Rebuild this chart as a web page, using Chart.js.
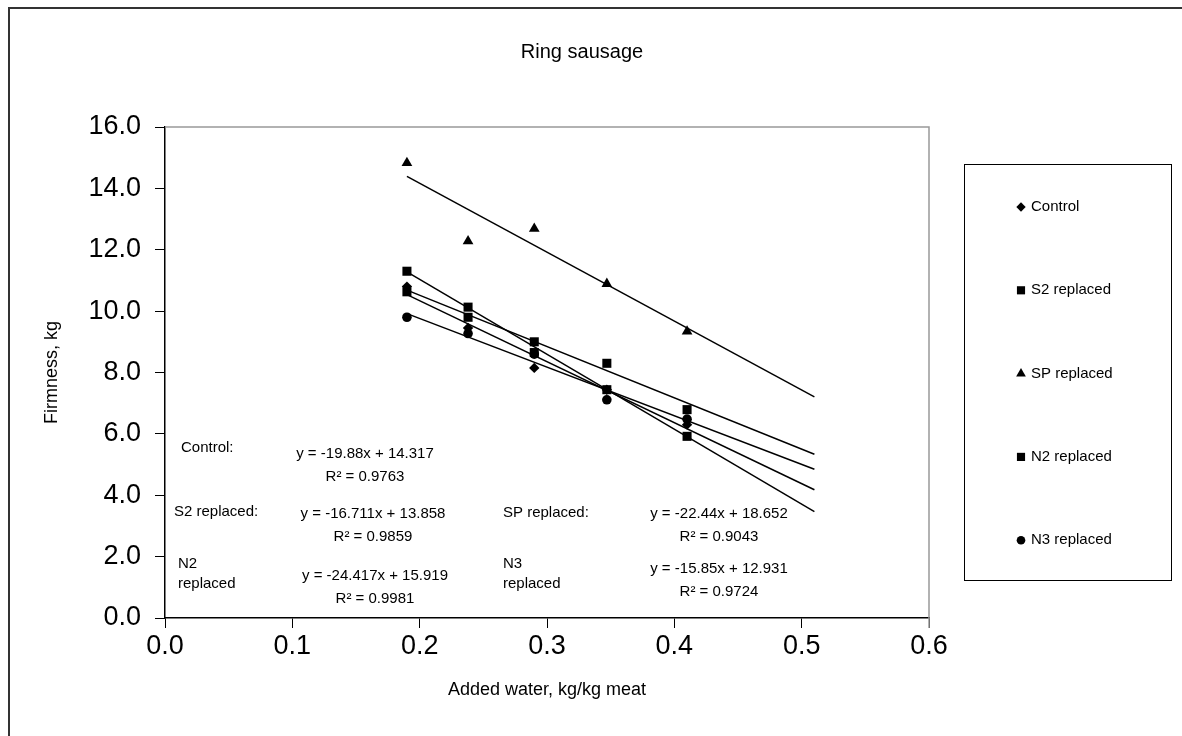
<!DOCTYPE html>
<html>
<head>
<meta charset="utf-8">
<title>Ring sausage</title>
<script src="https://cdn.jsdelivr.net/npm/chart.js@4"></script>
<style>
  html, body { margin: 0; padding: 0; background: #fff; }
  #wrap { width: 1182px; height: 736px; }
</style>
</head>
<body>
<div id="wrap"><canvas id="firmChart" width="1182" height="736"></canvas></div>
<script>
// Ring sausage firmness vs added water, with linear trendlines
const waterAdded = [0.19, 0.238, 0.29, 0.347, 0.41];
const seriesNames = ['Control', 'S2 replaced', 'SP replaced', 'N2 replaced', 'N3 replaced'];
const controlFirmness = [10.8, 9.45, 8.15, 7.44, 6.3];
const s2Firmness = [10.63, 9.8, 9.0, 8.3, 6.79];
const spFirmness = [14.83, 12.28, 12.69, 10.89, 9.34];
const n2Firmness = [11.3, 10.13, 8.65, 7.44, 5.92];
const n3Firmness = [9.8, 9.27, 8.6, 7.11, 6.48];

// trendline coefficients as printed on the chart
const trendSlopes = [-19.88, -16.711, -22.44, -24.417, -15.85];
const trendIntercepts = [14.317, 13.858, 18.652, 15.919, 12.931];
const trendR2 = ['0.9763', '0.9859', '0.9043', '0.9981', '0.9724'];
const trendFrom = 0.19;
const trendTo = 0.51;

const xTickLabels = ['0.0', '0.1', '0.2', '0.3', '0.4', '0.5', '0.6'];
const yTickLabels = ['0.0', '2.0', '4.0', '6.0', '8.0', '10.0', '12.0', '14.0', '16.0'];

const allFirmness = [controlFirmness, s2Firmness, spFirmness, n2Firmness, n3Firmness];
const markerStyles = ['rectRot', 'rect', 'triangle', 'rect', 'circle'];
const markerRadius = [5.2, 6.4, 6.2, 6.4, 4.8];
const FONT = "'Liberation Sans', Arial, sans-serif";

const datasets = [];
allFirmness.forEach((vals, i) => {
  datasets.push({
    label: seriesNames[i],
    data: vals.map((v, j) => ({ x: waterAdded[j], y: v })),
    pointStyle: markerStyles[i],
    pointRadius: markerRadius[i],
    pointBackgroundColor: '#000',
    pointBorderColor: '#000',
    pointBorderWidth: 0,
    showLine: false
  });
});
allFirmness.forEach((vals, i) => {
  const fit = x => trendSlopes[i] * x + trendIntercepts[i];
  datasets.push({
    label: 'Linear (' + seriesNames[i] + ')',
    data: [{ x: trendFrom, y: fit(trendFrom) }, { x: trendTo, y: fit(trendTo) }],
    showLine: true,
    borderColor: '#000',
    borderWidth: 1.5,
    pointRadius: 0
  });
});

// texts next to the trendlines: [name lines, name x, name y, eq center x, eq y]
const eqLayout = [
  [['Control:'], 181, 448, 365, 454],
  [['S2 replaced:'], 174, 512, 373, 514],
  [['SP replaced:'], 503, 513, 719, 514],
  [['N2', 'replaced'], 178, 564, 375, 576],
  [['N3', 'replaced'], 503, 564, 719, 569]
];

const decorations = {
  id: 'decorations',
  afterDraw(chart) {
    const { ctx, chartArea } = chart;
    ctx.save();
    // outer frame
    ctx.strokeStyle = '#333';
    ctx.lineWidth = 2;
    ctx.strokeRect(9, 8, 1190, 740);
    // plot area border on top and right
    ctx.strokeStyle = '#999';
    ctx.lineWidth = 1.5;
    ctx.beginPath();
    ctx.moveTo(chartArea.left, chartArea.top);
    ctx.lineTo(chartArea.right, chartArea.top);
    ctx.lineTo(chartArea.right, chartArea.bottom + 10);
    ctx.stroke();

    ctx.fillStyle = '#000';
    ctx.textBaseline = 'middle';
    ctx.font = '20px ' + FONT;
    ctx.textAlign = 'center';
    ctx.fillText('Ring sausage', 582, 52);

    ctx.font = '15px ' + FONT;
    eqLayout.forEach((row, i) => {
      const [names, nx, ny, ex, ey] = row;
      ctx.textAlign = 'left';
      names.forEach((t, k) => ctx.fillText(t, nx, ny + k * 20));
      ctx.textAlign = 'center';
      const sign = trendIntercepts[i] < 0 ? ' - ' : ' + ';
      ctx.fillText('y = ' + trendSlopes[i] + 'x' + sign + Math.abs(trendIntercepts[i]), ex, ey);
      ctx.fillText('R\u00b2 = ' + trendR2[i], ex, ey + 23);
    });

    // legend box
    ctx.strokeStyle = '#000';
    ctx.lineWidth = 1;
    ctx.strokeRect(964.5, 164.5, 207, 416);
    ctx.textAlign = 'left';
    ctx.font = '15px ' + FONT;
    seriesNames.forEach((name, i) => {
      const y = 207 + i * 83.3;
      const opts = { pointStyle: markerStyles[i], radius: markerRadius[i] * 0.9, borderWidth: 0 };
      ctx.fillStyle = '#000';
      ctx.strokeStyle = '#000';
      Chart.helpers.drawPoint(ctx, opts, 1021, y);
      ctx.fillText(name, 1031, y);
    });
    ctx.restore();
  }
};

const firmChart = new Chart(document.getElementById('firmChart'), {
  type: 'scatter',
  data: { datasets },
  options: {
    responsive: false,
    animation: false,
    layout: { padding: { top: 127, right: 253, left: 0, bottom: 0 } },
    plugins: {
      legend: { display: false },
      title: { display: false },
      tooltip: { enabled: false }
    },
    scales: {
      x: {
        type: 'linear',
        min: 0,
        max: 0.6,
        afterFit: s => { s.height = 118; },
        afterBuildTicks: s => { s.ticks = xTickLabels.map((t, i) => ({ value: i / 10 })); },
        ticks: {
          callback: (v, i) => xTickLabels[i],
          color: '#000',
          font: { family: FONT, size: 27 },
          padding: 2,
          maxRotation: 0
        },
        grid: { drawOnChartArea: false, drawTicks: true, tickLength: 10, color: '#000', tickWidth: 1 },
        border: { display: true, color: '#000', width: 1.5 },
        title: {
          display: true,
          text: 'Added water, kg/kg meat',
          color: '#000',
          font: { family: FONT, size: 18 },
          padding: { bottom: 35 }
        }
      },
      y: {
        type: 'linear',
        min: 0,
        max: 16,
        afterFit: s => { s.width = 165; },
        ticks: {
          stepSize: 2,
          callback: (v, i) => yTickLabels[i],
          color: '#000',
          font: { family: FONT, size: 27 },
          padding: 14
        },
        grid: { drawOnChartArea: false, drawTicks: true, tickLength: 10, color: '#000', tickWidth: 1 },
        border: { display: true, color: '#000', width: 1.5 },
        title: {
          display: true,
          text: 'Firmness, kg',
          color: '#000',
          font: { family: FONT, size: 18 },
          padding: { top: 41 }
        }
      }
    }
  },
  plugins: [decorations]
});
</script>
</body>
</html>
